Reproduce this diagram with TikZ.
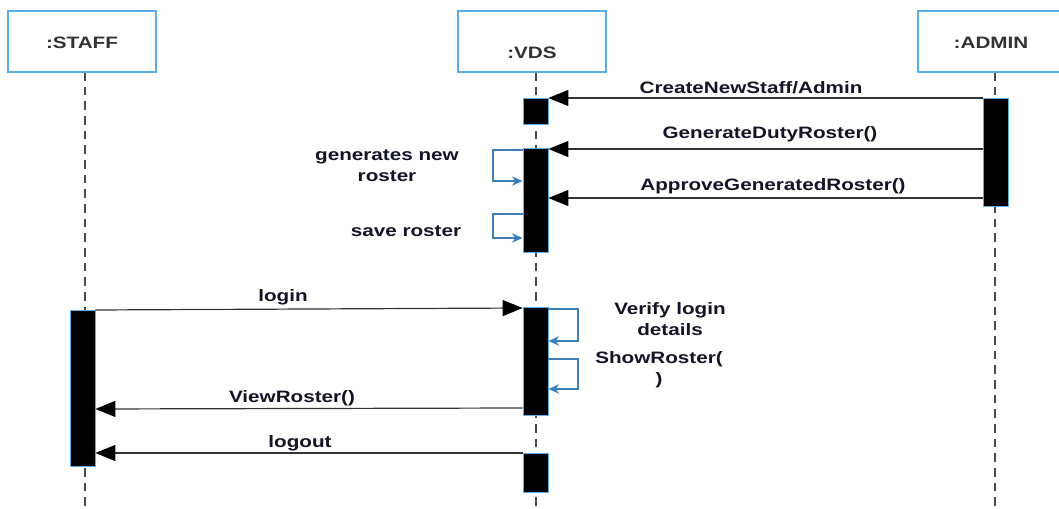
\documentclass[tikz,border=0pt]{standalone}
\usepackage{fontspec}
\setmainfont[FakeStretch=1.25]{Liberation Sans}
\usetikzlibrary{arrows.meta,fit}
\definecolor{boxblue}{HTML}{5AAEE8}
\definecolor{loopblue}{HTML}{3C7FB8}
\definecolor{lifegray}{HTML}{4A4A4A}
\definecolor{txt}{HTML}{141428}
\begin{document}
\begin{tikzpicture}[x=0.75pt,y=-0.75pt,
  objbox/.style={draw=boxblue,line width=1.2pt,fill=white,inner sep=0pt},
  lifeline/.style={draw=lifegray,line width=1.4pt,dash pattern=on 6.5pt off 4.5pt},
  bar/.style={draw=boxblue,line width=0.6pt,fill=black,inner sep=0pt},
  msg/.style={draw=black!80,line width=0.9pt,-{Triangle[length=15pt,width=12pt,color=black]}},
  selfloop/.style={draw=loopblue,line width=0.9pt,-{Stealth[length=8pt,width=7pt]}},
  lbl/.style={text=txt,font=\fontsize{12.4}{15.75}\selectfont\bfseries,align=center,inner sep=0pt},
  objlbl/.style={text=black!80,font=\fontsize{12.4}{15}\selectfont\bfseries,inner sep=0pt}
]
\useasboundingbox (0,0) rectangle (1059,509);
\fill[white] (0,0) rectangle (1059,509);

% lifelines
\coordinate (sTop) at (85,72);
\coordinate (sBot) at (85,509);
\coordinate (vTop) at (536,72);
\coordinate (vBot) at (536,509);
\coordinate (aTop) at (995,72);
\coordinate (aBot) at (995,509);
\draw[lifeline] (sTop) -- (sBot);
\draw[lifeline] (vTop) -- (vBot);
\draw[lifeline] (aTop) -- (aBot);

% object boxes
\node[objbox,fit={(8,11)(156,72)}] (staff) {};
\node[objbox,fit={(458,11)(606,72)}] (vds) {};
\node[objbox,fit={(918,11)(1068,72)}] (admin) {};
\node[objlbl] (staffl) at (82,43) {:STAFF};
\node[objlbl] (vdsl) at (532,53) {:VDS};
\node[objlbl] (adminl) at (991,43) {:ADMIN};

% activation bars
\node[bar,fit={(523,98)(548,124)}] (v1) {};
\node[bar,fit={(523,148)(548,252)}] (v2) {};
\node[bar,fit={(523,307)(548,415)}] (v3) {};
\node[bar,fit={(523,453)(548,492)}] (v4) {};
\node[bar,fit={(70,310)(95,466)}] (s1) {};
\node[bar,fit={(983,98)(1008,206)}] (a1) {};

% message levels
\coordinate (y1) at (0,98);
\coordinate (y2) at (0,149);
\coordinate (y3) at (0,198);
\coordinate (y4s) at (0,310);
\coordinate (y4v) at (0,308);
\coordinate (y5s) at (0,409);
\coordinate (y5v) at (0,408);
\coordinate (y6) at (0,453);

\draw[msg] (a1.west |- y1) -- (v1.east |- y1);
\draw[msg] (a1.west |- y2) -- (v2.east |- y2);
\draw[msg] (a1.west |- y3) -- (v2.east |- y3);
\draw[msg] (s1.east |- y4s) -- (v3.west |- y4v);
\draw[msg] (v3.west |- y5v) -- (s1.east |- y5s);
\draw[msg] (v4.west |- y6) -- (s1.east |- y6);

% self loops
\coordinate (l1a) at (0,150); \coordinate (l1b) at (0,181);
\coordinate (l2a) at (0,214); \coordinate (l2b) at (0,238);
\coordinate (l3a) at (0,309); \coordinate (l3b) at (0,341);
\coordinate (l4a) at (0,359); \coordinate (l4b) at (0,389);
\coordinate (lx) at (493,0);
\coordinate (rx) at (578,0);
\draw[selfloop] (v2.west |- l1a) -- (lx |- l1a) -- (lx |- l1b) -- (v2.west |- l1b);
\draw[selfloop] (v2.west |- l2a) -- (lx |- l2a) -- (lx |- l2b) -- (v2.west |- l2b);
\draw[selfloop] (v3.east |- l3a) -- (rx |- l3a) -- (rx |- l3b) -- (v3.east |- l3b);
\draw[selfloop] (v3.east |- l4a) -- (rx |- l4a) -- (rx |- l4b) -- (v3.east |- l4b);

% labels
\node[lbl] (t1) at (751,88) {CreateNewStaff/Admin};
\node[lbl] (t2) at (770,134) {GenerateDutyRoster()};
\node[lbl] (t3) at (773,186) {ApproveGeneratedRoster()};
\node[lbl] (t4) at (387,165.5) {generates new\\roster};
\node[lbl] (t5) at (406,231) {save roster};
\node[lbl] (t6) at (283,297) {login};
\node[lbl] (t7) at (670,319.5) {Verify login\\details};
\node[lbl] (t8) at (659,369.5) {ShowRoster(\\)};
\node[lbl] (t9) at (292,398) {ViewRoster()};
\node[lbl] (t10) at (300,443) {logout};
\end{tikzpicture}
\end{document}
